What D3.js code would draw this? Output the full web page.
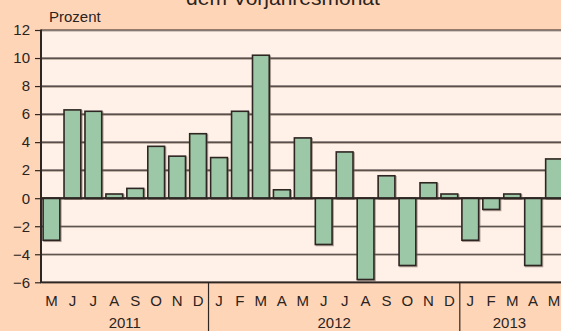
<!DOCTYPE html>
<html>
<head>
<meta charset="utf-8">
<script src="https://cdn.jsdelivr.net/npm/d3@7"></script>
<style>
  html, body { margin: 0; padding: 0; background: #FFD5B8; }
  svg { display: block; }
  text { font-family: "Liberation Sans", Arial, sans-serif; fill: #2a2420; }
</style>
</head>
<body>
<svg id="chart" width="561" height="331"></svg>
<script>
// Monthly change vs. same month of previous year, May 2011 – May 2013
const months = ["M","J","J","A","S","O","N","D","J","F","M","A","M","J","J","A","S","O","N","D","J","F","M","A","M"];
const values = [-3.0, 6.3, 6.2, 0.3, 0.7, 3.7, 3.0, 4.6, 2.9, 6.2, 10.2, 0.6, 4.3, -3.3, 3.3, -5.8, 1.6, -4.8, 1.1, 0.3, -3.0, -0.8, 0.3, -4.8, 2.8];
const years = ["2011", "2012", "2013"];
const yearStarts = [0, 8, 20];
const yearEnds = [8, 20, 25];
const yTicks = [-6, -4, -2, 0, 2, 4, 6, 8, 10, 12];

const W = 561, H = 331;
const plotLeft = 41, plotTop = 30, plotBottom = 282.3;
const step = 20.94;
const svg = d3.select("#chart");

const defs = svg.append("defs");
const f = defs.append("filter").attr("id", "shadow")
  .attr("x", "-20%").attr("y", "-20%").attr("width", "140%").attr("height", "140%");
f.append("feDropShadow").attr("dx", 1).attr("dy", 1).attr("stdDeviation", 0.7)
  .attr("flood-color", "#6b5a50").attr("flood-opacity", 0.55);

const idx = d3.range(values.length);
const x = d3.scaleBand().domain(idx)
  .range([plotLeft, plotLeft + step * values.length])
  .paddingInner(0.2).paddingOuter(0.1);
const y = d3.scaleLinear().domain([-6, 12]).range([plotBottom, plotTop]);

// plot background
svg.append("rect").attr("x", plotLeft).attr("y", plotTop)
  .attr("width", W - plotLeft).attr("height", plotBottom - plotTop)
  .attr("fill", "#FFF1E7");

// title (second line)
svg.append("text").attr("x", 283).attr("y", 4.5)
  .attr("text-anchor", "middle").style("font-size", "21px")
  .text("dem Vorjahresmonat");

svg.append("text").attr("x", 49).attr("y", 22)
  .style("font-size", "15px").text("Prozent");

// grid lines
svg.append("g").attr("filter", "url(#shadow)")
  .selectAll("line").data(yTicks).join("line")
  .attr("x1", plotLeft).attr("x2", W)
  .attr("y1", d => y(d)).attr("y2", d => y(d))
  .attr("stroke", "#2e2622").attr("stroke-width", 1.2);

// y axis
const yAxis = d3.axisLeft(y).tickValues(yTicks).tickSize(6).tickPadding(5);
const ga = svg.append("g").attr("transform", `translate(${plotLeft},0)`).call(yAxis);
ga.select(".domain").remove();
ga.selectAll(".tick line").attr("stroke", "#2e2622").attr("stroke-width", 1.2);
ga.selectAll(".tick text").style("font-size", "15px").attr("fill", "#2a2420")
  .attr("font-family", "Liberation Sans, Arial, sans-serif");

// bars
svg.append("g").attr("filter", "url(#shadow)")
  .selectAll("rect").data(idx).join("rect")
  .attr("x", i => x(i))
  .attr("width", x.bandwidth())
  .attr("y", i => y(Math.max(0, values[i])))
  .attr("height", i => Math.abs(y(values[i]) - y(0)))
  .attr("fill", "#9DC8A8")
  .attr("stroke", "#2e2622").attr("stroke-width", 1.6);

// zero line and frame lines
svg.append("line").attr("x1", plotLeft).attr("x2", W)
  .attr("y1", y(0)).attr("y2", y(0))
  .attr("stroke", "#2e2622").attr("stroke-width", 2);
svg.append("line").attr("x1", plotLeft).attr("x2", plotLeft)
  .attr("y1", plotTop - 0.5).attr("y2", plotBottom + 1)
  .attr("stroke", "#2e2622").attr("stroke-width", 2);
svg.append("line").attr("x1", plotLeft).attr("x2", W)
  .attr("y1", plotBottom).attr("y2", plotBottom)
  .attr("stroke", "#2e2622").attr("stroke-width", 1.6);

// month labels
svg.append("g").selectAll("text").data(idx).join("text")
  .attr("x", i => x(i) + x.bandwidth() / 2)
  .attr("y", 306)
  .attr("text-anchor", "middle").style("font-size", "15px")
  .text(i => months[i]);

// year separators and labels
const boundary = i => plotLeft + step * i;
svg.append("g").selectAll("line").data([8, 20]).join("line")
  .attr("x1", d => boundary(d)).attr("x2", d => boundary(d))
  .attr("y1", plotBottom).attr("y2", H)
  .attr("stroke", "#2e2622").attr("stroke-width", 1.2);
svg.append("g").selectAll("text").data(years).join("text")
  .attr("x", (d, k) => (boundary(yearStarts[k]) + Math.min(W, boundary(yearEnds[k]))) / 2 + (k === 2 ? -1 : 0))
  .attr("y", 328)
  .attr("text-anchor", "middle").style("font-size", "15px")
  .text(d => d);
</script>
</body>
</html>
